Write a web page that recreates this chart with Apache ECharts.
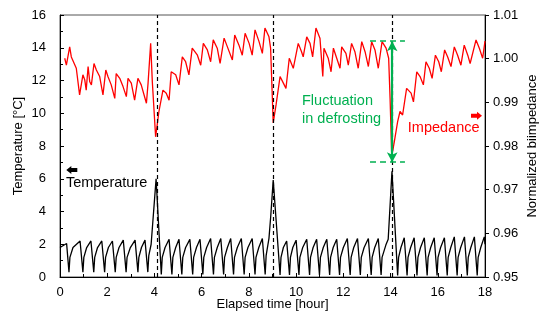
<!DOCTYPE html>
<html><head><meta charset="utf-8">
<script src="https://cdn.jsdelivr.net/npm/echarts@6/dist/echarts.min.js"></script>
<style>html,body{margin:0;padding:0;background:#fff}#c{width:550px;height:329px}</style>
</head><body><div id="c"></div>
<script>
// Temperature [°C] (left axis), [hour, value]
const tempPoints = [
[0,1.8],[0.28,2.05],[0.38,0.3],[0.42,1.2],[0.55,1.8],[0.85,2.2],[0.97,0.3],[1.01,1.2],[1.13,1.8],[1.31,2.2],[1.43,0.3],[1.47,1.2],[1.59,1.8],[1.77,2.2],[1.89,0.3],[1.93,1.2],[2.05,1.8],[2.22,2.2],[2.34,0.3],[2.38,1.2],[2.5,1.8],[2.68,2.25],[2.8,0.3],[2.84,1.2],[2.98,1.8],[3.18,2.25],[3.3,0.3],[3.34,1.2],[3.45,1.8],[3.6,2.25],[3.72,0.3],[3.76,1.3],[3.86,2.0],[4.07,6.0],[4.29,0.15],
[4.33,1.2],[4.45,1.8],[4.62,2.3],[4.74,0.15],[4.78,1.2],[4.9,1.8],[5.04,2.3],[5.16,0.15],[5.2,1.2],[5.32,1.8],[5.5,2.3],[5.62,0.15],[5.66,1.2],[5.78,1.8],[5.93,2.3],[6.05,0.15],[6.09,1.2],[6.21,1.8],[6.38,2.35],[6.5,0.15],[6.54,1.2],[6.66,1.8],[6.81,2.35],[6.93,0.15],[6.97,1.2],[7.09,1.8],[7.23,2.35],[7.35,0.15],[7.39,1.2],[7.51,1.8],[7.68,2.35],[7.8,0.15],[7.84,1.2],[7.96,1.8],[8.14,2.35],[8.26,0.15],[8.3,1.2],[8.42,1.8],[8.57,2.35],[8.69,0.15],[8.73,1.3],[8.85,2.36],[8.93,3.8],[9.03,5.92],[9.32,0.12],
[9.36,1.2],[9.46,1.8],[9.6,2.2],[9.72,0.12],[9.76,1.2],[9.86,1.8],[10.0,2.25],[10.12,0.12],[10.16,1.2],[10.28,1.8],[10.45,2.3],[10.57,0.12],[10.61,1.2],[10.72,1.8],[10.87,2.3],[10.99,0.12],[11.03,1.2],[11.15,1.8],[11.3,2.3],[11.42,0.12],[11.46,1.2],[11.57,1.8],[11.72,2.3],[11.84,0.12],[11.88,1.2],[12.0,1.8],[12.17,2.35],[12.29,0.12],[12.33,1.2],[12.44,1.8],[12.6,2.35],[12.72,0.12],[12.76,1.2],[12.88,1.8],[13.06,2.35],[13.18,0.12],[13.22,1.2],[13.33,1.8],[13.48,2.35],[13.6,0.12],[13.64,1.2],[13.8,1.95],[13.9,2.3],[14.06,6.45],[14.3,0.1],
[14.34,1.2],[14.44,1.8],[14.58,2.4],[14.7,0.1],[14.74,1.2],[14.85,1.8],[15.0,2.4],[15.12,0.1],[15.16,1.2],[15.27,1.8],[15.43,2.4],[15.55,0.1],[15.59,1.2],[15.7,1.8],[15.85,2.4],[15.97,0.1],[16.01,1.2],[16.12,1.8],[16.28,2.4],[16.4,0.1],[16.44,1.2],[16.55,1.8],[16.7,2.45],[16.82,0.1],[16.86,1.2],[16.97,1.8],[17.13,2.45],[17.25,0.1],[17.29,1.2],[17.4,1.8],[17.55,2.45],[17.67,0.1],[17.71,1.2],[17.82,1.8],[17.97,2.45],[18.0,2.0]
];
// Normalized bioimpedance (right axis), [hour, value]
const impPoints = [
[0.20,1.0001],[0.27,0.9985],[0.41,1.0027],[0.48,1.0004],[0.55,1.0008],[0.69,0.9978],[0.83,0.9917],[0.97,0.9963],[1.05,0.9951],[1.11,0.9928],[1.19,0.9982],[1.26,0.9947],[1.33,0.9940],[1.44,0.9989],[1.54,0.9974],[1.68,0.9959],[1.82,0.9917],[1.94,0.9974],[2.03,0.9959],[2.17,0.9940],[2.32,0.9909],[2.38,0.9966],[2.53,0.9955],[2.67,0.9936],[2.81,0.9913],[2.88,0.9955],[3.02,0.9944],[3.16,0.9905],[3.30,0.9955],[3.44,0.9940],[3.66,0.9898],[3.73,0.9944],[3.80,0.9940],[3.84,1.0035],[3.91,0.9947],[4.05,0.9821],[4.19,0.9879],[4.36,0.9928],[4.50,0.9921],[4.54,0.9921],[4.62,0.9905],
[4.71,0.9970],[4.90,0.9963],[5.04,0.9940],[5.18,1.0004],[5.32,0.9993],[5.46,0.9963],[5.60,1.0024],[5.82,1.0008],[5.96,0.9985],[6.07,1.0035],[6.24,1.0020],[6.38,0.9993],[6.49,1.0043],[6.66,1.0024],[6.78,0.9989],[6.95,1.0047],[7.09,1.0027],[7.30,0.9997],[7.40,1.0054],[7.58,1.0031],[7.72,1.0008],[7.84,1.0058],[8.01,1.0035],[8.14,1.0008],[8.26,1.0066],[8.43,1.0039],[8.57,1.0012],[8.68,1.0070],[8.85,1.0050],[8.92,1.0024],[9.03,0.9853],
[9.15,0.9894],[9.32,0.9959],[9.46,0.9944],[9.57,0.9932],[9.71,1.0001],[9.88,0.9978],[10.09,1.0035],[10.23,1.0016],[10.30,1.0004],[10.45,1.0050],[10.59,1.0035],[10.70,1.0004],[10.84,1.0070],[11.01,1.0047],[11.13,0.9959],[11.18,1.0024],[11.36,1.0001],[11.48,0.9970],[11.58,1.0024],[11.72,1.0001],[11.86,0.9978],[11.93,1.0027],[12.11,1.0012],[12.21,0.9985],[12.35,1.0035],[12.49,1.0016],[12.63,0.9978],[12.78,1.0039],[12.92,1.0016],[13.06,0.9982],[13.20,1.0039],[13.34,1.0020],[13.48,0.9978],[13.64,1.0039],[13.81,1.0024],[13.92,1.0001],[13.98,0.9909],[14.05,0.9777],
[14.16,0.9810],[14.30,0.9856],[14.40,0.9879],[14.51,0.9871],[14.68,0.9932],[14.87,0.9921],[14.97,0.9901],[15.11,0.9970],[15.25,0.9959],[15.39,0.9940],[15.50,0.9993],[15.64,0.9978],[15.76,0.9955],[15.90,1.0008],[16.04,0.9993],[16.15,0.9970],[16.29,1.0020],[16.42,1.0004],[16.56,0.9982],[16.70,1.0027],[16.84,1.0008],[16.98,0.9985],[17.12,1.0031],[17.27,1.0008],[17.37,0.9989],[17.62,1.0043],[17.76,1.0024],[17.90,1.0001],[18.0,1.0040]
];
const defrostHours = [4.1, 9.02, 14.07];
const fluctHour = 14.07;
const fluctTop = 1.0040;
const fluctBottom = 0.9763;
const fluctGuideFrom = 13.13, fluctGuideTo = 14.61;
const xRange = [0, 18, 2];
const leftRange = [0, 16, 2];
const rightRange = [0.95, 1.01, 0.01];

const FONT = 'Liberation Sans, Arial, sans-serif';
const GREEN = '#00B050';
const chart = echarts.init(document.getElementById('c'), null, {renderer: 'canvas'});
const axisCommon = {
  axisLine: {show: true, lineStyle: {color: '#000', width: 1}},
  axisLabel: {color: '#000', fontSize: 13, fontFamily: FONT},
  splitLine: {show: false},
  nameMoveOverlap: false,
  nameTextStyle: {color: '#000', fontSize: 13, fontFamily: FONT}
};
chart.setOption({
  animation: false,
  backgroundColor: '#fff',
  grid: {left: 60, right: 65, top: 15, bottom: 52, show: true, borderColor: '#555', borderWidth: 1},
  xAxis: Object.assign({}, axisCommon, {
    type: 'value', min: xRange[0], max: xRange[1], interval: xRange[2],
    name: 'Elapsed time [hour]', nameLocation: 'middle', nameGap: 21,
    axisTick: {show: true, inside: true, length: 4, lineStyle: {color: '#000'}},
    minorTick: {show: true, splitNumber: 2, length: 3, lineStyle: {color: '#000'}},
    axisLabel: Object.assign({}, axisCommon.axisLabel, {margin: 9})
  }),
  yAxis: [
    Object.assign({}, axisCommon, {
      type: 'value', min: leftRange[0], max: leftRange[1], interval: leftRange[2],
      name: 'Temperature [°C]', nameLocation: 'middle', nameGap: 35,
      axisTick: {show: true, inside: true, length: 4, lineStyle: {color: '#000'}},
      minorTick: {show: true, splitNumber: 2, length: 3, lineStyle: {color: '#000'}},
      axisLabel: Object.assign({}, axisCommon.axisLabel, {margin: 14})
    }),
    Object.assign({}, axisCommon, {
      type: 'value', min: rightRange[0], max: rightRange[1], interval: rightRange[2],
      position: 'right',
      name: 'Normalized biimpedance', nameLocation: 'middle', nameGap: 41, nameRotate: 90,
      axisTick: {show: true, inside: false, length: 4, lineStyle: {color: '#000'}},
      axisLabel: Object.assign({}, axisCommon.axisLabel, {margin: 8, formatter: v => v.toFixed(2)})
    })
  ],
  series: [
    {
      type: 'line', name: 'Temperature', yAxisIndex: 0, data: tempPoints,
      showSymbol: false, symbol: 'none',
      lineStyle: {color: '#000', width: 1.3}, z: 3,
      markLine: {
        silent: true, symbol: 'none', label: {show: false},
        lineStyle: {color: '#000', type: [4, 3], width: 1.2},
        data: defrostHours.map(h => ({xAxis: h}))
      }
    },
    {
      type: 'line', name: 'Impedance', yAxisIndex: 1, data: impPoints,
      showSymbol: false, symbol: 'none',
      lineStyle: {color: '#FF0000', width: 1.3}, z: 4,
      markLine: {
        silent: true, label: {show: false}, z: 6,
        data: [
          [{coord: [fluctGuideFrom, fluctTop], symbol: 'none', lineStyle: {color: GREEN, type: [6, 4], width: 1.5}},
           {coord: [fluctGuideTo, fluctTop], symbol: 'none'}],
          [{coord: [fluctGuideFrom, fluctBottom], symbol: 'none', lineStyle: {color: GREEN, type: [6, 4], width: 1.5}},
           {coord: [fluctGuideTo, fluctBottom], symbol: 'none'}],
          [{coord: [fluctHour, fluctTop], symbol: 'arrow', symbolSize: [8, 10], lineStyle: {color: GREEN, type: 'solid', width: 2.2}},
           {coord: [fluctHour, fluctBottom], symbol: 'arrow', symbolSize: [8, 10]}]
        ],
        itemStyle: {color: GREEN}
      }
    }
  ]
});

// annotations positioned through the axes
function px(axisIdx, pt) { return chart.convertToPixel({xAxisIndex: 0, yAxisIndex: axisIdx}, pt); }
const tTxt = px(0, [0.25, 5.71]);
const tArr = px(0, [0.5, 6.53]);
const iTxt = px(1, [14.73, 0.9841]);
const iArr = px(1, [17.64, 0.9869]);
const fTxt = px(1, [10.25, 0.9883]);
// dir = 1 : pointing left, dir = -1 : pointing right
function blockArrow(cx, cy, dir, color) {
  const w = 11, h = 8, head = 5, sh = 4;
  let pts = [[0, 0], [head, -h / 2], [head, -sh / 2], [w, -sh / 2], [w, sh / 2], [head, sh / 2], [head, h / 2]];
  pts = pts.map(p => [cx + dir * (p[0] - w / 2), cy + p[1]]);
  return {type: 'polygon', shape: {points: pts}, style: {fill: color}, silent: true, z: 10};
}
chart.setOption({
  graphic: [
    {type: 'text', x: tTxt[0], y: tTxt[1], z: 10, silent: true,
     style: {text: 'Temperature', fill: '#000', font: '14.5px ' + FONT, align: 'left', verticalAlign: 'middle'}},
    blockArrow(tArr[0], tArr[1], 1, '#000'),
    {type: 'text', x: iTxt[0], y: iTxt[1], z: 10, silent: true,
     style: {text: 'Impedance', fill: '#FF0000', font: '14.5px ' + FONT, align: 'left', verticalAlign: 'middle'}},
    blockArrow(iArr[0], iArr[1], -1, '#FF0000'),
    {type: 'text', x: fTxt[0], y: fTxt[1], z: 10, silent: true,
     style: {text: 'Fluctuation\nin defrosting', fill: GREEN, font: '14.5px ' + FONT, lineHeight: 17.5, align: 'left', verticalAlign: 'middle'}}
  ]
});
</script>
</body></html>
